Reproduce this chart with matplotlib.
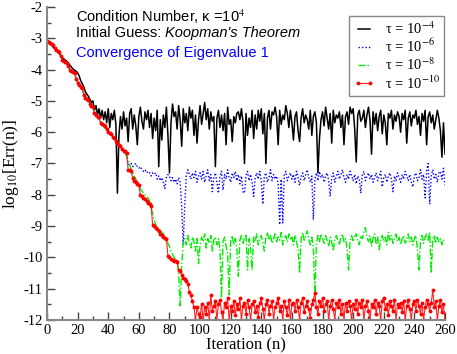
import matplotlib
matplotlib.use("Agg")
import matplotlib.pyplot as plt
import numpy as np

plt.rcParams['font.family'] = ['Liberation Serif', 'DejaVu Serif']
plt.rcParams['mathtext.fontset'] = 'stix'
plt.rcParams['axes.unicode_minus'] = False

iterations = list(range(0, 261))

err_tau4 = [
    -3.10, -3.14, -3.18, -3.22, -3.28, -3.33, -3.38, -3.43, -3.50, -3.55,
    -3.62, -3.66, -3.70, -3.74, -3.80, -3.86, -3.92, -3.98, -4.02, -4.05,
    -4.10, -4.20, -4.35, -4.45, -4.55, -4.70, -4.78, -4.85, -4.95, -5.05,
    -5.00, -5.30, -5.15, -5.45, -5.25, -5.55, -5.30, -5.60, -5.35, -5.70,
    -5.25, -5.85, -5.40, -5.60, -5.30, -5.75, -7.95, -6.10, -5.50, -5.90,
    -5.35, -5.80, -5.55, -6.30, -5.40, -5.25, -5.90, -5.45, -5.80, -6.40,
    -5.50, -5.20, -5.65, -5.90, -5.35, -5.60, -5.30, -5.85, -5.40, -6.20,
    -5.55, -5.95, -5.30, -7.10, -5.60, -6.25, -5.45, -5.85, -5.20, -6.10,
    -7.30, -5.70, -5.10, -5.50, -5.35, -5.90, -5.15, -5.60, -6.45, -5.25,
    -5.70, -5.40, -5.95, -5.20, -5.55, -5.30, -6.10, -5.45, -6.35, -5.60,
    -5.15, -5.75, -5.40, -5.05, -5.60, -5.25, -5.90, -5.35, -5.65, -5.50,
    -7.10, -5.55, -5.30, -5.85, -5.45, -5.95, -5.40, -6.40, -5.20, -5.75,
    -5.60, -6.30, -5.50, -5.70, -5.40, -5.35, -5.60, -5.25, -5.65, -7.00,
    -5.40, -6.10, -5.55, -5.85, -5.30, -6.20, -5.45, -5.90, -5.30, -5.65,
    -5.25, -6.05, -5.40, -7.00, -5.55, -5.30, -5.90, -5.35, -5.45, -5.20,
    -5.50, -6.40, -5.30, -5.75, -5.45, -5.60, -5.15, -5.40, -5.85, -5.30,
    -5.70, -6.25, -5.50, -5.35, -5.95, -6.30, -5.55, -5.25, -5.70, -5.45,
    -5.60, -5.90, -5.30, -6.10, -5.50, -5.35, -5.70, -7.30, -6.20, -5.60,
    -5.35, -5.80, -5.20, -5.55, -5.90, -5.40, -6.35, -5.30, -5.70, -5.45,
    -5.55, -5.35, -5.85, -5.45, -6.40, -5.50, -5.35, -5.75, -5.20, -5.40,
    -5.25, -5.90, -6.95, -5.45, -5.30, -5.65, -5.55, -5.30, -5.85, -5.45,
    -5.20, -5.60, -6.70, -5.35, -5.75, -5.40, -5.95, -5.50, -5.30, -6.05,
    -5.45, -5.70, -6.40, -5.40, -5.55, -5.30, -5.90, -5.45, -5.65, -5.35,
    -5.50, -6.00, -5.40, -5.60, -5.30, -6.35, -5.55, -5.35, -5.80, -5.45,
    -5.55, -5.30, -5.75, -5.50, -6.10, -5.40, -5.65, -5.30, -6.40, -5.50,
    -5.35, -5.70, -5.45, -5.90, -5.60, -5.30, -5.55, -5.95, -6.80, -5.70, -6.70,
]

err_tau6 = [
    -3.10, -3.13, -3.16, -3.20, -3.25, -3.30, -3.36, -3.42, -3.47, -3.53,
    -3.62, -3.70, -3.76, -3.82, -3.90, -3.98, -4.04, -4.08, -4.15, -4.27,
    -4.38, -4.47, -4.55, -4.62, -4.75, -4.85, -4.92, -4.98, -5.07, -5.14,
    -5.20, -5.32, -5.42, -5.50, -5.58, -5.68, -5.74, -5.80, -5.88, -5.92,
    -5.98, -6.05, -6.08, -6.12, -6.20, -6.26, -6.30, -6.35, -6.42, -6.50,
    -6.58, -6.66, -6.80, -7.00, -7.05, -7.00, -7.10, -7.05, -7.00, -7.10,
    -7.15, -7.10, -7.20, -7.25, -7.20, -7.30, -7.25, -7.30, -7.40, -7.30,
    -7.35, -7.30, -7.50, -7.40, -7.55, -7.45, -7.60, -7.80, -7.45, -7.35,
    -7.40, -7.55, -7.45, -7.60, -7.50, -7.65, -7.45, -7.60, -8.40, -9.60,
    -8.30, -7.40, -7.20, -7.35, -7.50, -7.30, -7.45, -7.25, -7.60, -7.40,
    -7.30, -7.50, -7.25, -7.60, -7.40, -7.20, -7.55, -7.35, -7.90, -7.45,
    -7.30, -7.60, -7.95, -7.40, -7.25, -7.85, -7.35, -7.50, -7.20, -7.45,
    -7.60, -7.30, -7.45, -7.25, -7.55, -7.35, -7.65, -7.40, -7.90, -7.95,
    -7.40, -7.25, -7.55, -7.35, -7.60, -8.05, -7.45, -7.30, -7.50, -7.25,
    -7.55, -8.30, -7.40, -7.30, -7.60, -7.45, -7.20, -7.55, -7.35, -7.50,
    -7.40, -7.65, -8.95, -7.50, -8.90, -7.35, -7.25, -7.55, -7.40, -7.30,
    -7.50, -7.35, -7.60, -7.25, -7.45, -7.70, -7.40, -7.30, -7.55, -7.35,
    -7.20, -7.45, -7.60, -7.40, -8.80, -7.50, -7.30, -7.55, -7.25, -7.45,
    -7.35, -7.60, -7.40, -7.30, -7.55, -8.05, -7.45, -7.30, -7.60, -7.40,
    -7.25, -7.50, -7.35, -7.20, -7.45, -7.60, -7.35, -7.50, -7.25, -7.40,
    -7.55, -7.35, -7.65, -7.40, -7.50, -7.95, -7.35, -7.25, -7.55, -7.40,
    -7.30, -7.50, -7.35, -7.60, -7.45, -7.30, -7.55, -7.40, -7.25, -7.75,
    -7.45, -7.35, -7.60, -7.40, -7.30, -7.50, -7.90, -7.40, -7.55, -7.30,
    -7.45, -7.60, -7.35, -7.50, -7.25, -7.40, -7.55, -7.35, -7.60, -7.75,
    -7.40, -7.30, -7.55, -7.45, -7.20, -7.50, -7.35, -8.10, -7.25, -7.00,
    -8.30, -7.40, -7.20, -7.50, -7.35, -7.60, -7.30, -7.25, -7.50, -7.15, -7.70,
]

err_tau8 = [
    -3.10, -3.13, -3.16, -3.20, -3.25, -3.30, -3.36, -3.42, -3.47, -3.53,
    -3.62, -3.70, -3.76, -3.82, -3.90, -3.98, -4.04, -4.08, -4.15, -4.27,
    -4.38, -4.47, -4.55, -4.62, -4.75, -4.85, -4.92, -4.98, -5.07, -5.14,
    -5.20, -5.32, -5.42, -5.50, -5.58, -5.68, -5.74, -5.80, -5.88, -5.92,
    -5.98, -6.05, -6.08, -6.12, -6.20, -6.26, -6.30, -6.35, -6.42, -6.50,
    -6.58, -6.66, -6.75, -6.90, -7.05, -7.20, -7.30, -7.40, -7.50, -7.60,
    -7.70, -7.80, -7.88, -7.95, -8.00, -8.05, -8.10, -8.20, -8.40, -8.60,
    -8.80, -8.95, -9.05, -9.10, -9.15, -9.20, -9.25, -9.35, -9.45, -9.55,
    -9.65, -9.80, -9.90, -10.00, -10.05, -10.10, -10.50, -11.55, -10.30, -9.50,
    -9.40, -9.60, -9.30, -9.55, -9.70, -9.35, -9.50, -9.80, -9.40, -10.20,
    -9.60, -9.35, -9.50, -9.25, -9.70, -9.40, -9.55, -9.30, -9.80, -9.45,
    -9.35, -9.60, -9.40, -9.75, -11.30, -9.50, -9.35, -9.65, -9.90, -11.20,
    -9.45, -9.30, -9.60, -9.40, -9.70, -10.60, -9.45, -9.30, -9.55, -9.40,
    -9.25, -10.40, -9.40, -9.65, -10.40, -9.35, -9.50, -9.25, -9.60, -9.40,
    -9.30, -9.55, -9.80, -9.35, -9.20, -9.45, -9.30, -9.55, -9.40, -9.25,
    -9.50, -9.35, -9.45, -9.20, -9.60, -9.40, -9.30, -9.50, -9.25, -9.45,
    -9.35, -9.60, -9.30, -9.50, -9.75, -10.50, -9.40, -9.20, -9.45, -9.30,
    -9.15, -9.40, -9.60, -9.35, -9.70, -11.20, -9.55, -9.30, -9.50, -9.25,
    -9.40, -9.55, -9.30, -9.45, -9.65, -9.35, -9.50, -9.80, -9.40, -9.30,
    -9.45, -9.60, -9.35, -9.25, -9.50, -9.40, -9.70, -10.40, -9.45, -9.30,
    -9.50, -9.35, -9.25, -9.45, -9.60, -9.30, -9.40, -9.20, -9.05, -9.35,
    -9.50, -9.30, -9.65, -9.40, -9.25, -9.55, -9.35, -9.75, -9.45, -9.30,
    -9.50, -9.35, -9.60, -9.20, -9.45, -9.30, -9.55, -9.40, -9.25, -9.50,
    -9.35, -9.60, -9.40, -9.30, -9.55, -9.45, -9.25, -9.50, -9.35, -9.60,
    -9.40, -9.30, -9.75, -10.40, -9.45, -9.30, -9.55, -9.35, -9.25, -9.45,
    -9.20, -10.50, -9.40, -9.30, -9.55, -9.35, -9.50, -9.40, -9.60, -9.45, -9.55,
]

err_tau10 = [
    -3.10, -3.12, -3.15, -3.18, -3.22, -3.30, -3.38, -3.42, -3.45, -3.55,
    -3.68, -3.72, -3.75, -3.80, -3.90, -4.00, -4.05, -4.08, -4.10, -4.30,
    -4.42, -4.50, -4.55, -4.60, -4.80, -4.90, -4.93, -4.96, -5.10, -5.15,
    -5.20, -5.40, -5.45, -5.50, -5.52, -5.72, -5.75, -5.78, -5.80, -5.90,
    -5.98, -6.02, -6.05, -6.15, -6.20, -6.28, -6.35, -6.40, -6.45, -6.55,
    -6.60, -6.60, -6.65, -7.20, -7.22, -7.25, -7.45, -7.55, -7.60, -7.65,
    -7.70, -8.00, -8.05, -8.10, -8.15, -8.20, -8.25, -8.30, -8.35, -8.95,
    -9.00, -9.05, -9.10, -9.15, -9.25, -9.30, -9.35, -9.38, -9.40, -9.95,
    -10.00, -10.05, -10.08, -10.10, -10.12, -10.14, -10.40, -10.45, -10.55, -10.65,
    -10.70, -10.75, -10.85, -11.10, -11.20, -11.40, -11.60, -12.00, -11.60, -11.80,
    -11.90, -11.50, -12.00, -11.60, -11.80, -11.45, -12.00, -11.20, -11.70, -11.55,
    -11.40, -12.00, -11.50, -11.35, -11.75, -12.00, -11.45, -11.60, -11.30, -12.00,
    -11.55, -11.70, -11.40, -11.85, -11.50, -11.65, -11.30, -12.00, -11.55, -11.45,
    -11.80, -11.35, -11.60, -12.00, -11.50, -11.40, -11.75, -11.55, -11.90, -11.45,
    -11.30, -11.65, -12.00, -11.50, -11.35, -11.80, -11.55, -11.40, -12.00, -11.60,
    -11.45, -11.30, -11.70, -11.55, -12.00, -11.40, -11.60, -11.85, -11.35, -12.00,
    -11.50, -11.45, -11.70, -11.35, -11.60, -12.00, -11.45, -11.30, -11.75, -11.55,
    -11.40, -11.65, -11.95, -11.50, -11.35, -11.15, -11.60, -11.80, -11.40, -11.55,
    -11.30, -11.70, -11.50, -11.40, -12.00, -11.55, -11.35, -11.65, -12.00, -11.45,
    -11.60, -11.35, -11.80, -11.50, -12.00, -11.45, -11.70, -11.40, -11.55, -12.00,
    -11.50, -11.65, -11.35, -11.80, -11.45, -11.60, -11.35, -12.00, -11.55, -11.40,
    -11.70, -12.00, -11.50, -11.60, -11.35, -11.80, -11.45, -11.55, -12.00, -11.40,
    -11.30, -11.65, -11.50, -11.85, -11.40, -11.55, -11.70, -11.35, -12.00, -11.50,
    -11.60, -11.45, -11.75, -11.40, -12.00, -11.55, -11.35, -11.65, -12.00, -11.50,
    -11.40, -11.70, -11.35, -11.55, -11.80, -11.45, -12.00, -11.60, -11.35, -11.50,
    -11.70, -11.45, -11.05, -11.60, -11.40, -12.00, -11.55, -11.35, -11.75, -11.50, -12.00,
]

series_labels = ['τ = 10$^{-4}$', 'τ = 10$^{-6}$', 'τ = 10$^{-8}$', 'τ = 10$^{-10}$']
x_ticks = [0, 20, 40, 60, 80, 100, 120, 140, 160, 180, 200, 220, 240, 260]
y_ticks = [-12, -11, -10, -9, -8, -7, -6, -5, -4, -3, -2]

fig = plt.figure(figsize=(4.57, 3.54), dpi=100)
ax = fig.add_axes([47/457, 1 - 320/354, 398/457, 313/354])

ax.plot(iterations, err_tau4, color='black', lw=1.1, label=series_labels[0])
ax.plot(iterations, err_tau6, color='#0000ff', lw=1.0, ls=(0, (1, 1.5)), label=series_labels[1])
ax.plot(iterations, err_tau8, color='#00ee00', lw=1.0, ls=(0, (5, 1.5, 1, 1.5)), label=series_labels[2])
ax.plot(iterations, err_tau10, color='#ff2222', lw=0.8, marker='o', markersize=2.8,
        markeredgewidth=0, markerfacecolor='#ff0000', label=series_labels[3])

ax.set_xlim(0, 260)
ax.set_ylim(-12, -2)
ax.set_xticks(x_ticks)
ax.set_xticks(range(10, 260, 20), minor=True)
ax.set_yticks(y_ticks)
ax.set_yticks(np.arange(-11.5, -2, 1.0), minor=True)
ax.tick_params(which='both', direction='in', labelsize=10.5, colors='#444444', labelcolor='black')
ax.tick_params(which='major', length=6, width=1, pad=3)
ax.tick_params(which='minor', length=3, width=1)
for s in ['top', 'right']:
    ax.spines[s].set_visible(False)
for s in ['left', 'bottom']:
    ax.spines[s].set_color('#888888')
    ax.spines[s].set_linewidth(1.5)

ax.set_xlabel('Iteration (n)', fontsize=12, labelpad=0)
ax.set_ylabel('log$_{10}$[Err(n)]', fontsize=12.5, labelpad=2)

sans = ['Liberation Sans', 'DejaVu Sans']
t1 = ax.text(19, -2.32, 'Condition Number, κ =10$^4$', fontsize=10.5,
             family=sans, va='center', ha='left')
t2 = ax.text(19, -2.84, 'Initial Guess: ', fontsize=10.5,
             family=sans, va='center', ha='left')
ax.annotate("Koopman's Theorem", xy=(1, 0), xycoords=t2, va='bottom', ha='left',
            fontsize=10.5, family=sans, style='italic')
ax.text(19, -3.48, 'Convergence of Eigenvalue 1', fontsize=10.5, color='#0000ff',
        family=sans, va='center', ha='left')

leg = ax.legend(loc='upper right', bbox_to_anchor=(0.998, 0.972), borderaxespad=0,
                fontsize=10.5, numpoints=2, handlelength=1.45, fancybox=False,
                edgecolor='#888888', framealpha=1, labelspacing=0.08,
                borderpad=0.3, handletextpad=0.7)
leg.get_frame().set_linewidth(1.0)

fig.savefig('out.png', dpi=100)
